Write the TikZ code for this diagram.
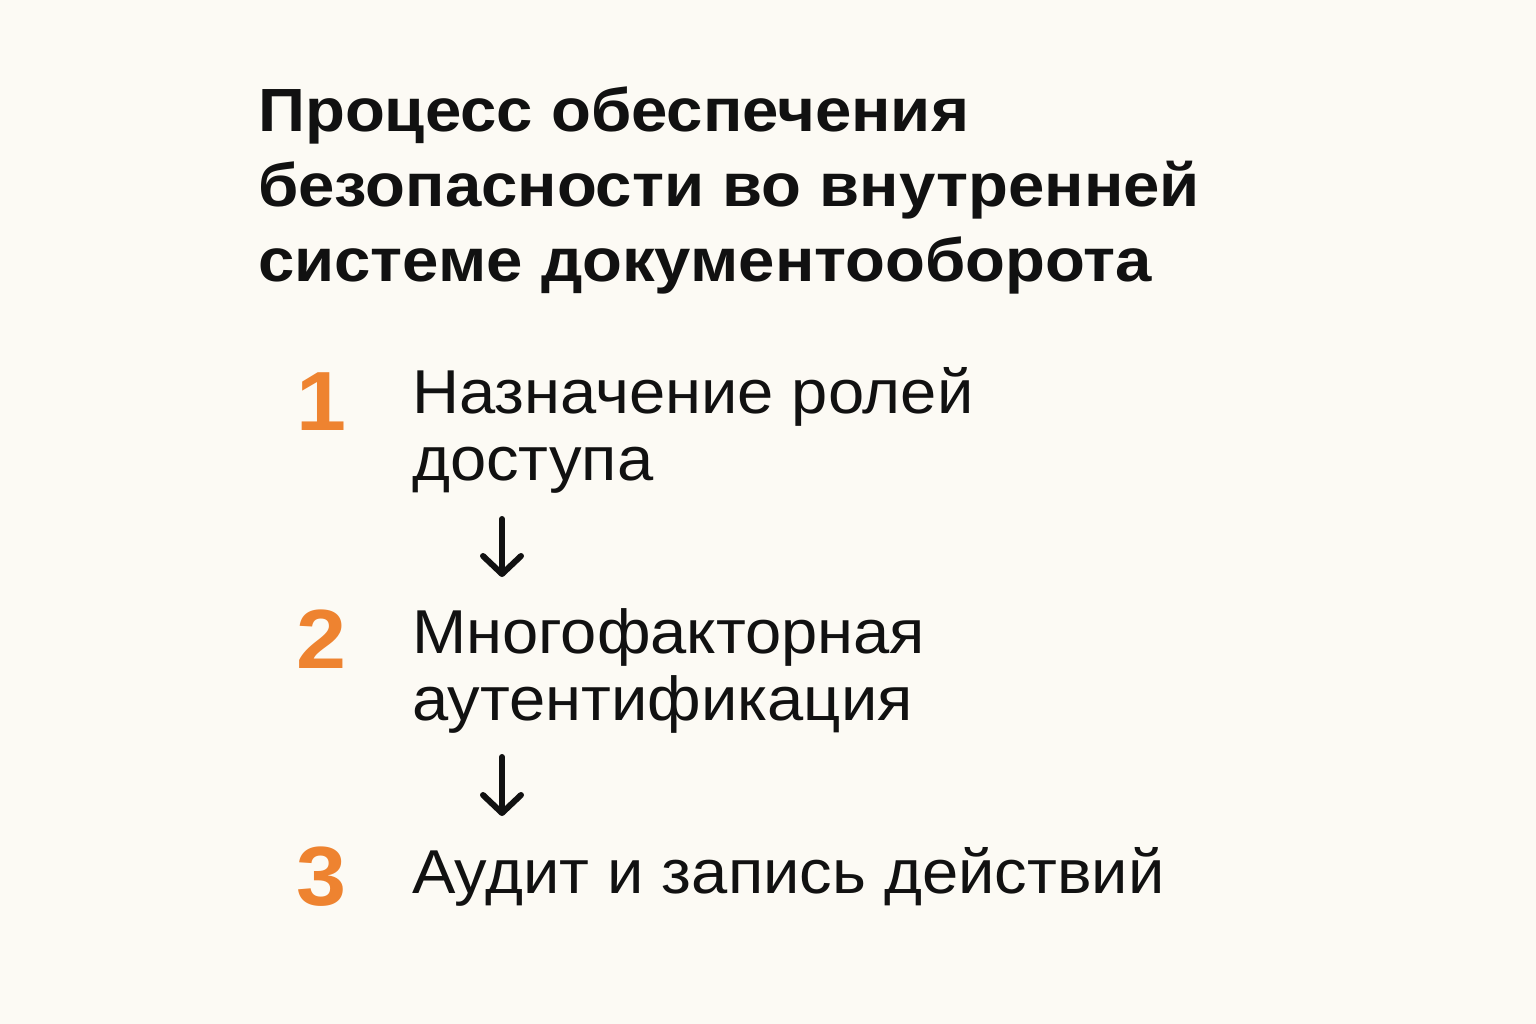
\documentclass[tikz,border=0pt]{standalone}
\usepackage{fontspec}
\setmainfont{Liberation Sans}
\newfontfamily\titlefont[FakeStretch=1.07]{Liberation Sans}
\newfontfamily\itemfont[FakeStretch=1.05]{Liberation Sans}
\usetikzlibrary{arrows.meta}
\definecolor{bg}{HTML}{FCFAF4}
\definecolor{ink}{HTML}{111111}
\definecolor{accent}{HTML}{EE8330}
\tikzset{
  title/.style={anchor=base west, inner sep=0pt, text=ink, font=\titlefont\bfseries\fontsize{61}{61}\selectfont},
  item/.style={anchor=base west, inner sep=0pt, text=ink, font=\itemfont\fontsize{62}{62}\selectfont},
  num/.style={anchor=base, inner sep=0pt, text=accent, font=\titlefont\bfseries\fontsize{84}{84}\selectfont},
  flow/.style={draw=ink, line width=6pt, line cap=round, -{Straight Barb[length=18pt, width=38pt, line cap=round, line join=round]}}
}
\begin{document}
\begin{tikzpicture}[x=1pt,y=-1pt]
\fill[bg] (0,0) rectangle (1536,1024);
\useasboundingbox (0,0) rectangle (1536,1024);
\node[title] (t1) at (258,132) {Процесс обеспечения};
\node[title] (t2) at (258,207) {безопасности во внутренней};
\node[title] (t3) at (258,281) {системе документооборота};
\node[num] (n1) at (321,430) {1};
\node[item] (s1a) at (412,413) {Назначение ролей};
\node[item] (s1b) at (412,480) {доступа};
\node[num] (n2) at (321,668) {2};
\node[item] (s2a) at (412,653) {Многофакторная};
\node[item] (s2b) at (412,720) {аутентификация};
\node[num] (n3) at (321,905) {3};
\node[item] (s3) at (412,893) {Аудит и запись действий};
\coordinate (a1s) at (502,519);
\coordinate (a1e) at (502,577);
\coordinate (a2s) at (502,757);
\coordinate (a2e) at (502,816);
\draw[flow] (a1s) -- (a1e);
\draw[flow] (a2s) -- (a2e);
\end{tikzpicture}
\end{document}
